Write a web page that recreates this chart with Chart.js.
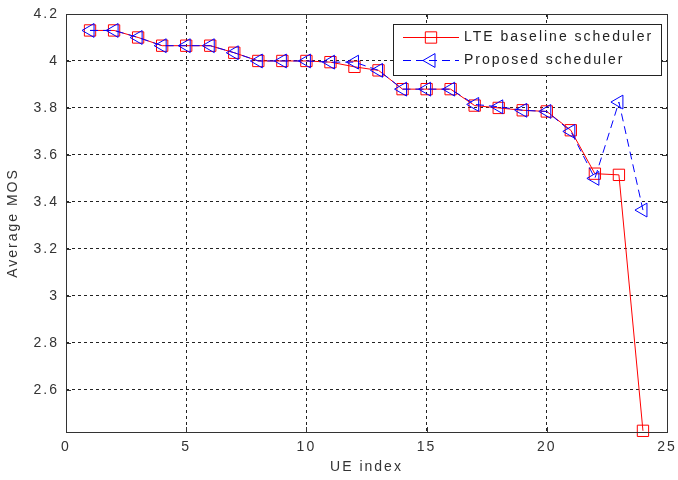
<!DOCTYPE html>
<html>
<head>
<meta charset="utf-8">
<script src="https://cdn.jsdelivr.net/npm/chart.js@4/dist/chart.umd.min.js"></script>
<style>
  html, body { margin: 0; padding: 0; background: #fff; }
  #wrap { width: 678px; height: 480px; }
</style>
</head>
<body>
<div id="wrap"><canvas id="chart" width="678" height="480"></canvas></div>
<script>
const ueIndex = [1, 2, 3, 4, 5, 6, 7, 8, 9, 10, 11, 12, 13, 14, 15, 16, 17, 18, 19, 20, 21, 22, 23, 24];
const lteMos = [4.13, 4.13, 4.10, 4.065, 4.065, 4.065, 4.035, 4.00, 4.00, 4.00, 3.995, 3.975,
                3.96, 3.88, 3.88, 3.88, 3.81, 3.80, 3.79, 3.785, 3.705, 3.52, 3.515, 2.425];
const proposedMos = [4.13, 4.13, 4.10, 4.065, 4.065, 4.065, 4.035, 4.00, 4.00, 4.00, 3.995, 3.995,
                     3.96, 3.88, 3.88, 3.88, 3.815, 3.805, 3.79, 3.785, 3.70, 3.50, 3.825, 3.365];
const xTicks = [0, 5, 10, 15, 20, 25];
const yTicks = [2.6, 2.8, 3.0, 3.2, 3.4, 3.6, 3.8, 4.0, 4.2];
const seriesNames = ['LTE baseline scheduler', 'Proposed scheduler'];

const RED = '#ff0000';
const BLUE = '#0000ff';
const INK = '#333333';
const FONT = { family: 'Arial, "Liberation Sans", sans-serif', size: 14 };

function spacing(ctx) { ctx.letterSpacing = '2px'; }

// square / left-pointing triangle, same shapes as Chart.js uses for the points
function marker(ctx, style, x, y, r) {
  ctx.beginPath();
  if (style === 'rect') {
    const s = r * Math.SQRT1_2;
    ctx.rect(x - s, y - s, 2 * s, 2 * s);
  } else {
    ctx.moveTo(x - r, y);
    ctx.lineTo(x + r / 2, y - r * 0.866);
    ctx.lineTo(x + r / 2, y + r * 0.866);
    ctx.closePath();
  }
  ctx.stroke();
}

const frame = {
  id: 'frame',
  beforeLayout(chart) { spacing(chart.ctx); },
  beforeDraw(chart) { spacing(chart.ctx); },
  afterDatasetsDraw(chart) {
    const { ctx, chartArea: a, scales } = chart;
    ctx.save();
    ctx.strokeStyle = INK;
    ctx.lineWidth = 1;
    ctx.setLineDash([]);
    ctx.strokeRect(Math.round(a.left) + 0.5, Math.round(a.top) + 0.5,
                   Math.round(a.width), Math.round(a.height));
    // inward tick marks on all four sides
    ctx.beginPath();
    xTicks.forEach(v => {
      const x = Math.round(scales.x.getPixelForValue(v)) + 0.5;
      ctx.moveTo(x, a.bottom); ctx.lineTo(x, a.bottom - 5);
      ctx.moveTo(x, a.top); ctx.lineTo(x, a.top + 5);
    });
    yTicks.forEach(v => {
      const y = Math.round(scales.y.getPixelForValue(v)) + 0.5;
      ctx.moveTo(a.left, y); ctx.lineTo(a.left + 5, y);
      ctx.moveTo(a.right, y); ctx.lineTo(a.right - 5, y);
    });
    ctx.stroke();

    // legend box
    const bx = 393.5, by = 24.5, bw = 268, bh = 51;
    ctx.fillStyle = '#fff';
    ctx.fillRect(bx, by, bw, bh);
    ctx.strokeStyle = '#222';
    ctx.strokeRect(bx, by, bw, bh);
    const rows = [
      { name: seriesNames[0], color: RED, dash: [], style: 'rect', y: 37.5 },
      { name: seriesNames[1], color: BLUE, dash: [8, 5], style: 'triangle', y: 60.5 }
    ];
    rows.forEach(r => {
      ctx.strokeStyle = r.color;
      ctx.setLineDash(r.dash);
      ctx.beginPath();
      ctx.moveTo(403, r.y); ctx.lineTo(459, r.y);
      ctx.stroke();
      ctx.setLineDash([]);
      marker(ctx, r.style, 431, r.y, 8);
      ctx.fillStyle = '#222';
      ctx.font = '14px Arial, "Liberation Sans", sans-serif';
      spacing(ctx);
      ctx.textAlign = 'left';
      ctx.textBaseline = 'middle';
      ctx.fillText(r.name, 464, r.y);
    });
    ctx.restore();
  }
};

new Chart(document.getElementById('chart'), {
  type: 'line',
  data: {
    labels: ueIndex,
    datasets: [
      {
        label: seriesNames[0],
        data: ueIndex.map((x, i) => ({ x, y: lteMos[i] })),
        borderColor: RED,
        borderWidth: 1,
        pointStyle: 'rect',
        pointRadius: 8,
        pointBorderColor: RED,
        pointBackgroundColor: 'rgba(0,0,0,0)',
        pointBorderWidth: 1,
        tension: 0,
        clip: false,
        order: 1
      },
      {
        label: seriesNames[1],
        data: ueIndex.map((x, i) => ({ x, y: proposedMos[i] })),
        borderColor: BLUE,
        borderWidth: 1,
        borderDash: [8, 5],
        pointStyle: 'triangle',
        rotation: -90,
        pointRadius: 8,
        pointBorderColor: BLUE,
        pointBackgroundColor: 'rgba(0,0,0,0)',
        pointBorderWidth: 1,
        tension: 0,
        clip: false,
        order: 0
      }
    ]
  },
  options: {
    responsive: false,
    animation: false,
    devicePixelRatio: 1,
    layout: { padding: { top: 14, right: 11, left: 0, bottom: 0 } },
    plugins: { legend: { display: false }, tooltip: { enabled: false } },
    scales: {
      x: {
        type: 'linear',
        min: 0,
        max: 25,
        afterBuildTicks: s => { s.ticks = xTicks.map(value => ({ value })); },
        afterFit: s => { s.height = 48; s.paddingLeft = 0; s.paddingRight = 0; },
        ticks: { color: INK, font: FONT, padding: 7, maxRotation: 0 },
        grid: {
          color: c => (c.tick && (c.tick.value === 0 || c.tick.value === 25)) ? 'rgba(0,0,0,0)' : '#222',
          lineWidth: 1,
          drawTicks: false
        },
        border: { display: false, dash: [3, 3] },
        title: { display: true, text: 'UE index', color: INK, font: FONT, padding: { top: 0, bottom: 4 } }
      },
      y: {
        type: 'linear',
        min: 2.42,
        max: 4.2,
        afterBuildTicks: s => { s.ticks = yTicks.map(value => ({ value })); },
        afterFit: s => { s.width = 66; s.paddingTop = 0; s.paddingBottom = 0; },
        ticks: { color: INK, font: FONT, padding: 7, callback: v => String(+v.toFixed(2)) },
        grid: {
          color: c => (c.tick && c.tick.value === 4.2) ? 'rgba(0,0,0,0)' : '#222',
          lineWidth: 1,
          drawTicks: false
        },
        border: { display: false, dash: [3, 3] },
        title: { display: true, text: 'Average MOS', color: INK, font: FONT, padding: { top: 5, bottom: 0 } }
      }
    }
  },
  plugins: [frame]
});
</script>
</body>
</html>
